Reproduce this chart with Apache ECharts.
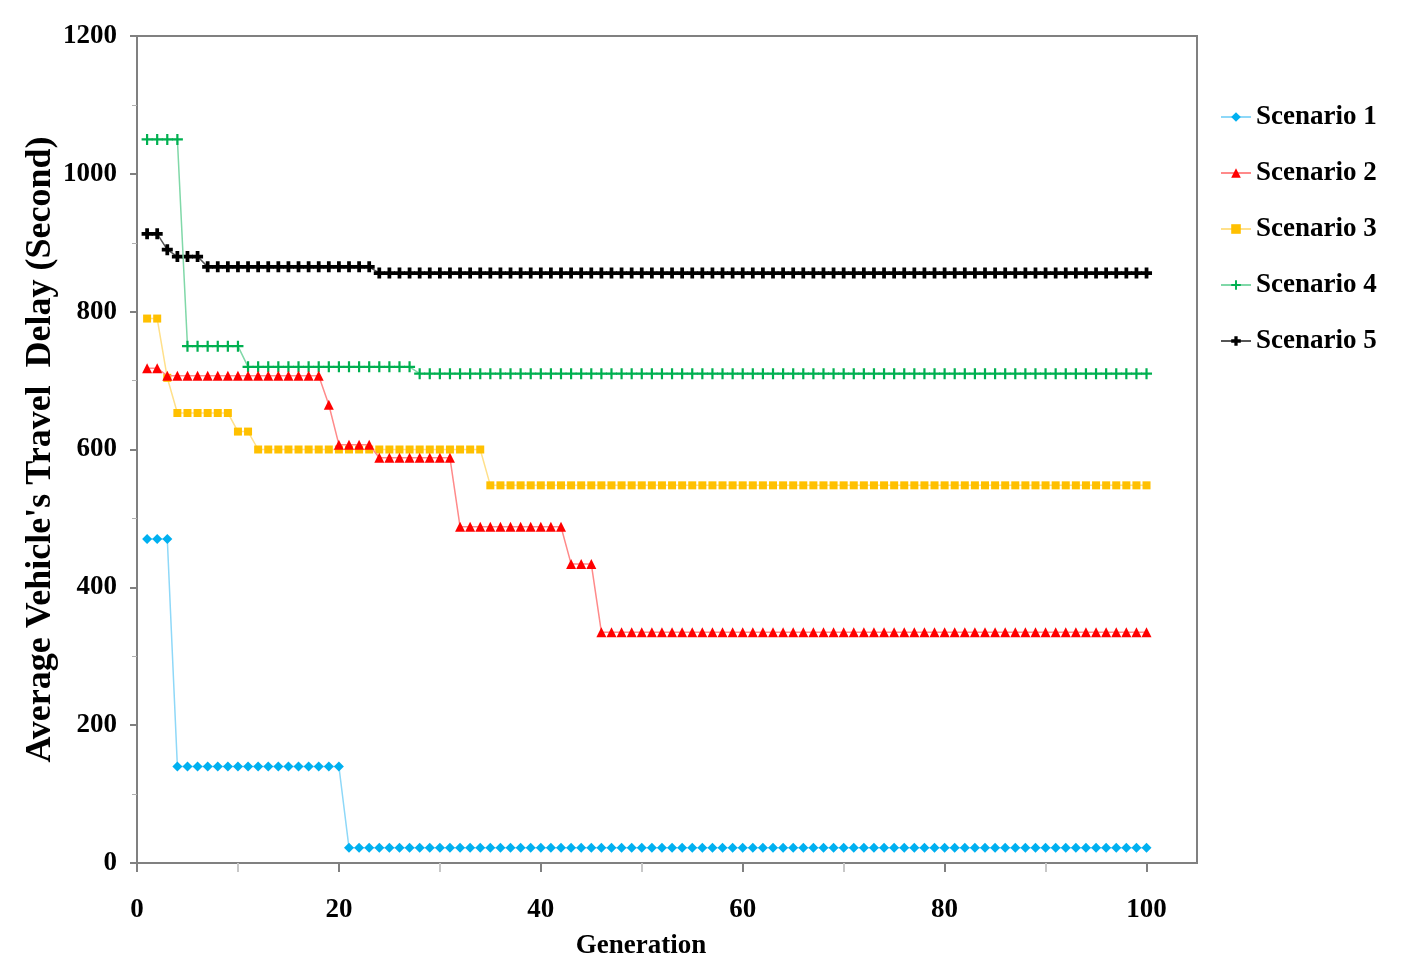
<!DOCTYPE html>
<html>
<head>
<meta charset="utf-8">
<script src="https://cdn.jsdelivr.net/npm/echarts@6/dist/echarts.min.js"></script>
<style>html,body{margin:0;padding:0;background:#fff}#c{width:1402px;height:974px}</style>
</head>
<body>
<div id="c"></div>
<script>
var generations = [
  1,2,3,4,5,6,7,8,9,10,
  11,12,13,14,15,16,17,18,19,20,
  21,22,23,24,25,26,27,28,29,30,
  31,32,33,34,35,36,37,38,39,40,
  41,42,43,44,45,46,47,48,49,50,
  51,52,53,54,55,56,57,58,59,60,
  61,62,63,64,65,66,67,68,69,70,
  71,72,73,74,75,76,77,78,79,80,
  81,82,83,84,85,86,87,88,89,90,
  91,92,93,94,95,96,97,98,99,100
];
var scenario1 = [
  470,470,470,140,140,140,140,140,140,140,
  140,140,140,140,140,140,140,140,140,140,
  22,22,22,22,22,22,22,22,22,22,
  22,22,22,22,22,22,22,22,22,22,
  22,22,22,22,22,22,22,22,22,22,
  22,22,22,22,22,22,22,22,22,22,
  22,22,22,22,22,22,22,22,22,22,
  22,22,22,22,22,22,22,22,22,22,
  22,22,22,22,22,22,22,22,22,22,
  22,22,22,22,22,22,22,22,22,22
];
var scenario2 = [
  718,718,707,707,707,707,707,707,707,707,
  707,707,707,707,707,707,707,707,665,607,
  607,607,607,588,588,588,588,588,588,588,
  588,488,488,488,488,488,488,488,488,488,
  488,488,434,434,434,335,335,335,335,335,
  335,335,335,335,335,335,335,335,335,335,
  335,335,335,335,335,335,335,335,335,335,
  335,335,335,335,335,335,335,335,335,335,
  335,335,335,335,335,335,335,335,335,335,
  335,335,335,335,335,335,335,335,335,335
];
var scenario3 = [
  790,790,704,653,653,653,653,653,653,626,
  626,600,600,600,600,600,600,600,600,600,
  600,600,600,600,600,600,600,600,600,600,
  600,600,600,600,548,548,548,548,548,548,
  548,548,548,548,548,548,548,548,548,548,
  548,548,548,548,548,548,548,548,548,548,
  548,548,548,548,548,548,548,548,548,548,
  548,548,548,548,548,548,548,548,548,548,
  548,548,548,548,548,548,548,548,548,548,
  548,548,548,548,548,548,548,548,548,548
];
var scenario4 = [
  1050,1050,1050,1050,750,750,750,750,750,750,
  720,720,720,720,720,720,720,720,720,720,
  720,720,720,720,720,720,720,710,710,710,
  710,710,710,710,710,710,710,710,710,710,
  710,710,710,710,710,710,710,710,710,710,
  710,710,710,710,710,710,710,710,710,710,
  710,710,710,710,710,710,710,710,710,710,
  710,710,710,710,710,710,710,710,710,710,
  710,710,710,710,710,710,710,710,710,710,
  710,710,710,710,710,710,710,710,710,710
];
var scenario5 = [
  913,913,890,880,880,880,865,865,865,865,
  865,865,865,865,865,865,865,865,865,865,
  865,865,865,856,856,856,856,856,856,856,
  856,856,856,856,856,856,856,856,856,856,
  856,856,856,856,856,856,856,856,856,856,
  856,856,856,856,856,856,856,856,856,856,
  856,856,856,856,856,856,856,856,856,856,
  856,856,856,856,856,856,856,856,856,856,
  856,856,856,856,856,856,856,856,856,856,
  856,856,856,856,856,856,856,856,856,856
];
var seriesNames = ['Scenario 1','Scenario 2','Scenario 3','Scenario 4','Scenario 5'];
var xTicks = [0,20,40,60,80,100];
var xMinorTicks = [10,30,50,70,90];
var yTicks = [0,200,400,600,800,1000,1200];

var FONT = '"Liberation Serif", "DejaVu Serif", serif';
var plus = 'path://M4,0H6V4H10V6H6V10H4V6H0V4H4Z';
var plusBold = 'path://M3.3,0H6.7V3.3H10V6.7H6.7V10H3.3V6.7H0V3.3H3.3Z';

function pairs(vals){ return generations.map(function(g,i){ return [g, vals[i]]; }); }

var styles = [
  {data: scenario1, color:'#00B0F0', line:'#8ed8f8', symbol:'diamond', size:10},
  {data: scenario2, color:'#FF0000', line:'#ff8a8a', symbol:'triangle', size:10},
  {data: scenario3, color:'#FFC000', line:'#ffe08a', symbol:'rect', size:8},
  {data: scenario4, color:'#00B050', line:'#80d8a8', symbol:plus, size:11},
  {data: scenario5, color:'#000000', line:'#555555', symbol:plusBold, size:11}
];

var chart = echarts.init(document.getElementById('c'));
chart.setOption({
  animation: false,
  backgroundColor: '#ffffff',
  grid: {left:137, right:205, top:36, bottom:111, show:true, borderColor:'#808080', borderWidth:2, containLabel:false},
  legend: {
    orient:'vertical', left:1215, top:96, itemWidth:30, itemHeight:12, itemGap:24,
    data: seriesNames,
    textStyle:{fontFamily:FONT, fontWeight:'bold', fontSize:27, color:'#000', lineHeight:32}
  },
  xAxis: [{
    type:'value', min:0, max:105,
    name:'Generation', nameLocation:'middle', nameGap:70, nameMoveOverlap:false,
    nameTextStyle:{fontFamily:FONT, fontWeight:'bold', fontSize:27, color:'#000', padding:[0,52,0,0]},
    axisLine:{show:true, lineStyle:{color:'#808080', width:2}},
    axisTick:{show:true, length:9, customValues: xTicks, lineStyle:{color:'#808080', width:2}},
    splitLine:{show:false},
    axisLabel:{margin:34, customValues: xTicks, fontFamily:FONT, fontWeight:'bold', fontSize:27, color:'#000',
      formatter:function(v){ return String(v); }}
  },{
    type:'value', min:0, max:105, position:'bottom',
    axisLine:{show:false},
    axisTick:{show:true, length:9, customValues: xMinorTicks, lineStyle:{color:'#c8c8c8', width:2}},
    axisLabel:{show:false},
    splitLine:{show:false}
  }],
  yAxis: {
    type:'value', min:0, max:1200, interval:200,
    name:"Average Vehicle's Travel  Delay (Second)", nameLocation:'middle', nameGap:78, nameMoveOverlap:false,
    nameTextStyle:{fontFamily:FONT, fontWeight:'bold', fontSize:36, color:'#000'},
    axisLine:{show:true, lineStyle:{color:'#808080', width:2}},
    axisTick:{show:true, length:7, lineStyle:{color:'#808080', width:2}},
    minorTick:{show:true, splitNumber:2, length:5, lineStyle:{color:'#b0b0b0', width:1}},
    splitLine:{show:false},
    axisLabel:{margin:20, fontFamily:FONT, fontWeight:'bold', fontSize:27, color:'#000',
      formatter:function(v){ return yTicks.indexOf(v) >= 0 ? String(v) : ''; }}
  },
  series: styles.map(function(s, i){
    return {
      name: seriesNames[i], type:'line', data: pairs(s.data), xAxisIndex:0,
      symbol: s.symbol, symbolSize: s.size, showAllSymbol:true,
      itemStyle:{color:s.color},
      lineStyle:{color:s.line, width:1.5},
      emphasis:{disabled:true}, z: 10 - i
    };
  })
});
</script>
</body>
</html>
